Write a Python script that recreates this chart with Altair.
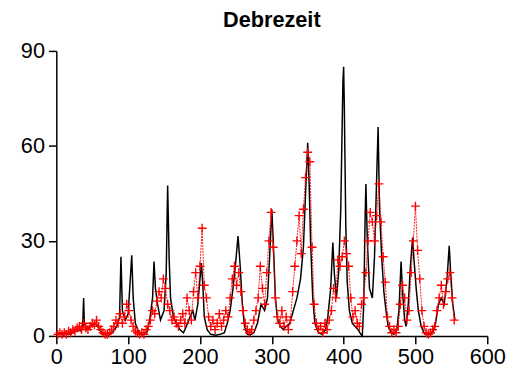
import altair as alt
import pandas as pd

# Black series (vertices)
black_t = [0, 5, 10, 15, 20, 25, 30, 35, 37, 38, 39, 42, 48, 55, 60, 65, 72, 78, 84, 88,
           90, 92, 96, 100, 103, 105, 107, 110, 115, 120, 126, 130, 134, 136, 138, 141, 145, 150, 153, 155,
           157, 159, 163, 167, 172, 177, 181, 186, 190, 193, 197, 200, 202, 204, 206, 210, 215, 222, 228, 234,
           238, 242, 246, 250, 253, 256, 259, 262, 266, 270, 275, 280, 285, 290, 294, 297, 300, 302, 305, 308,
           312, 316, 320, 325, 330, 335, 340, 344, 347, 350, 352, 354, 357, 360, 365, 370, 375, 378, 382, 385,
           387, 390, 393, 396, 399, 400, 401, 403, 405, 408, 412, 416, 420, 424, 426, 428, 430, 431, 433, 436,
           440, 443, 446, 448, 450, 453, 456, 459, 462, 466, 470, 474, 477, 480, 482, 485, 487, 490, 493, 496,
           498, 501, 504, 508, 512, 518, 524, 528, 532, 536, 540, 544, 547, 549, 552, 555]
black_v = [0.5, 1, 0.3, 1, 0.5, 1.5, 2, 1.5, 5, 12, 4, 2, 3, 4, 2, 0.5, 0.3, 1, 3, 6,
           25, 8, 5, 7, 18, 25.5, 12, 4, 1, 0.3, 1, 5, 12, 23.5, 15, 10, 5, 8, 20, 47.5,
           25, 12, 6, 4, 2, 1, 3, 6, 8, 5, 10, 18, 23, 16, 6, 2, 0.5, 0.2, 0.5, 1,
           4, 8, 15, 24, 31.5, 22, 10, 3, 0.5, 0.3, 1, 4, 10, 8, 12, 25, 40, 30, 12, 5,
           3, 2, 3, 4, 8, 12, 18, 28, 45, 61, 48, 30, 12, 4, 1, 0.5, 2, 6, 15, 29.5,
           20, 12, 20, 40, 80, 85, 72, 35, 17, 8, 4, 3, 2, 0.5, 0, 10, 38, 48, 30, 15,
           12, 25, 50, 66, 40, 25, 14, 8, 3, 1, 0.5, 2, 8, 23.5, 14, 5, 3, 10, 22, 31,
           24, 15, 8, 3, 1, 0.3, 1, 4, 10, 12, 10, 18, 28.5, 20, 10, 5]

# Red series (every third step)
red_t = list(range(2, 555, 3))
red_v = [0.5, 1, 0.5, 1, 0.5, 1.5, 1, 2, 1.5, 2.5,
         3, 2, 4, 2.5, 2, 3, 4, 3.5, 5, 3,
         2, 1, 0.5, 0.5, 1, 2, 3, 5, 4, 7,
         4, 6, 10, 8, 5, 3, 1.5, 1, 0.5, 1,
         0.5, 2, 3, 5, 8, 7, 11, 14, 12, 18,
         15, 10, 8, 5, 6, 4, 3, 5, 7, 4,
         12, 8, 5, 14, 20, 12, 22, 34, 16, 12,
         6, 3, 5, 2, 4, 7, 3, 5, 8, 6,
         12, 18, 22, 16, 20, 14, 8, 4, 2, 1,
         2, 5, 8, 12, 22, 15, 10, 20, 30, 39,
         28, 12, 6, 4, 8, 3, 6, 2, 5, 14,
         22, 30, 38, 26, 40, 50, 58, 55, 28, 10,
         4, 2, 3, 1, 4, 2, 5, 8, 15, 12,
         24, 22, 25, 30, 26, 22, 12, 6, 8, 4,
         3, 10, 12, 20, 30, 39, 36, 30, 38, 48,
         36, 25, 17, 6, 3, 1, 2, 1, 3, 10,
         16, 12, 5, 8, 20, 30, 41, 27, 18, 8,
         3, 1, 0.5, 1, 2, 3, 8, 12, 16, 10,
         14, 18, 20, 12, 5]

x_ticks = [0, 100, 200, 300, 400, 500, 600]
y_ticks = [0, 30, 60, 90]

df_black = pd.DataFrame({"t": black_t, "v": black_v})
df_red = pd.DataFrame({"t": red_t, "v": red_v})

xenc = alt.X("t:Q", scale=alt.Scale(domain=[0, 600], nice=False),
             axis=alt.Axis(values=x_ticks, title=None, labelPadding=3, labelFlush=False))
yenc = alt.Y("v:Q", scale=alt.Scale(domain=[0, 90], nice=False),
             axis=alt.Axis(values=y_ticks, title=None, labelPadding=4, labelFlush=False))

black = alt.Chart(df_black).mark_line(color="black", strokeWidth=1.5).encode(x=xenc, y=yenc)
redline = alt.Chart(df_red).mark_line(color="red", strokeWidth=0.9, strokeDash=[2, 1]).encode(x=xenc, y=yenc)
redpts = alt.Chart(df_red).mark_point(shape="M-1,0L1,0M0,-1L0,1", color="red", filled=False,
                                       size=81, strokeWidth=1.4, opacity=1).encode(x=xenc, y=yenc)

chart = alt.layer(black, redline, redpts).properties(
    width=437, height=289,
    autosize=alt.AutoSizeParams(type="none"),
    padding={"left": 49, "top": 41, "right": 20, "bottom": 30},
    title=alt.TitleParams("Debrezeit", fontSize=22, font="Liberation Sans", fontWeight="bold",
                          anchor="middle", offset=8, color="black"),
).configure_view(stroke=None).configure_axis(
    grid=False, domainColor="black", tickColor="black", labelColor="black",
    labelFont="Liberation Sans", labelFontSize=22, tickSize=8, domainWidth=1.5, tickWidth=1.5,
)

chart.save("out.html", embed_options={"renderer": "svg", "actions": False})
